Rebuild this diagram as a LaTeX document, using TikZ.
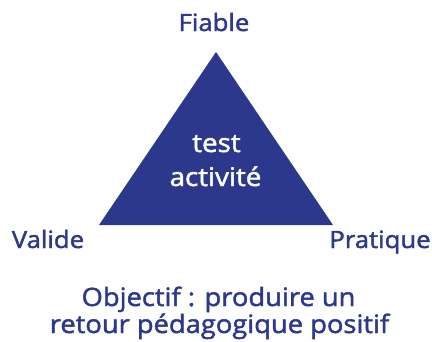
\documentclass[tikz,border=0pt]{standalone}
\usepackage{fontspec}
\setmainfont{Open Sans}[FakeBold=1.7,FakeStretch=1.08]
\definecolor{navy}{RGB}{44,56,140}
\begin{document}
\begin{tikzpicture}[x=1pt,y=-1pt,
  label/.style={text=navy,font=\fontsize{23.8}{28}\selectfont,inner sep=0pt,anchor=base},
  goal/.style={text=navy,font=\fontsize{25.3}{30}\selectfont,inner sep=0pt,anchor=base},
  inner/.style={text=white,font=\fontsize{25.7}{30}\selectfont,inner sep=0pt,anchor=base}]
  \useasboundingbox[fill=white] (0,0) rectangle (432,341);
  % the triangle
  \coordinate (top) at (216,52);
  \coordinate (left) at (99,225);
  \coordinate (right) at (333,225);
  \fill[navy] (top) -- (right) -- (left) -- cycle;
  % corner labels
  \node[label] (fiable) at (214,31) {Fiable};
  \node[label] (valide) at (48,248) {Valide};
  \node[label] (pratique) at (380,248) {Pratique};
  % centre text
  \node[inner] (test) at (216.5,152) {test};
  \node[inner] (activite) at (215.5,186) {activité};
  % goal
  \node[goal] (goal1) at (218.5,306) {Objectif : produire un};
  \node[goal] (goal2) at (219.5,333) {retour pédagogique positif};
\end{tikzpicture}
\end{document}
